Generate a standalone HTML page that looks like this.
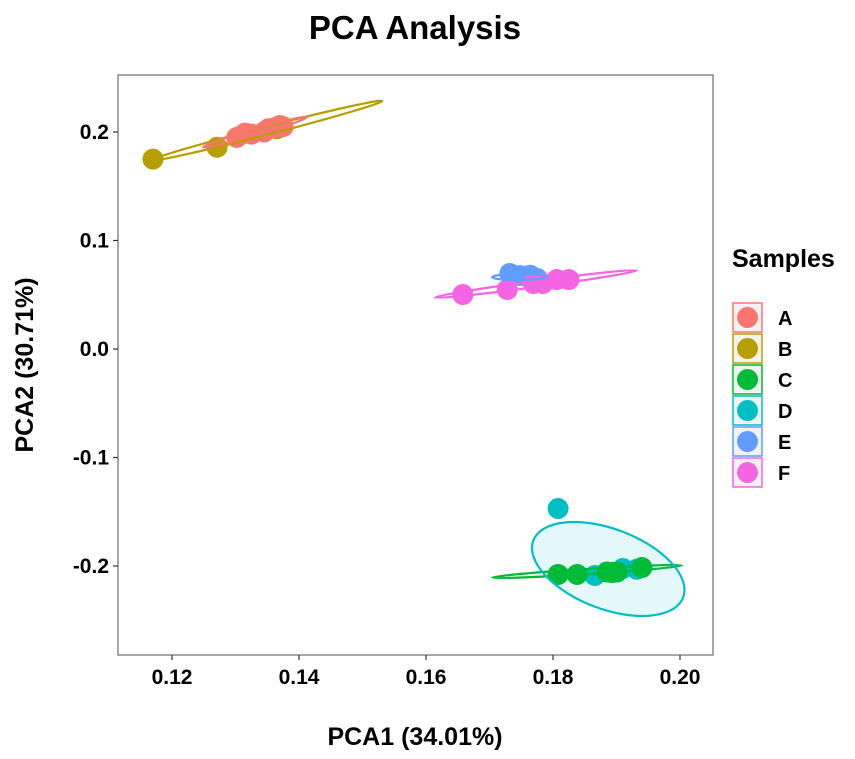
<!DOCTYPE html>
<html><head><meta charset="utf-8"><style>
body{margin:0;background:#fff;}
svg text{font-family:"Liberation Sans",Arial,sans-serif;font-weight:bold;}
</style></head><body>
<svg id="chart" width="855" height="754" xmlns="http://www.w3.org/2000/svg">
<rect width="855" height="754" fill="#fff"/>
<text x="415" y="39" font-size="33" text-anchor="middle">PCA Analysis</text>
<rect x="118" y="75" width="595" height="580" fill="#fff" stroke="#7a7a7a" stroke-width="1.3"/>
<g id="xaxis"></g>
<g id="yaxis"></g>
<g id="marks"></g>
<text x="415" y="745" font-size="25" text-anchor="middle">PCA1 (34.01%)</text>
<text transform="translate(33,365) rotate(-90)" font-size="25" text-anchor="middle">PCA2 (30.71%)</text>
<text x="732" y="267" font-size="25">Samples</text>
<g id="legend"></g>
</svg>
<script>
const groups=["A","B","C","D","E","F"];
const colors=["#F8766D","#B79F00","#00BA38","#00BFC4","#619CFF","#F564E3"];
const xTicks=[0.12,0.14,0.16,0.18,0.20];
const xTickLabels=["0.12","0.14","0.16","0.18","0.20"];
const yTicks=[0.2,0.1,0.0,-0.1,-0.2];
const yTickLabels=["0.2","0.1","0.0","-0.1","-0.2"];
const ptGroup=["B","B","B","A","A","A","A","A","A","A","A","E","E","E","E","F","F","F","F","F","F","D","D","D","D","C","C","C","C","C","C"];
const ptX=[0.117,0.1271,0.1365,0.1302,0.1315,0.1325,0.1345,0.1352,0.1362,0.137,0.1375,0.1732,0.1748,0.1764,0.1775,0.1658,0.1728,0.1769,0.1784,0.1806,0.1825,0.1808,0.1866,0.191,0.1932,0.1808,0.1838,0.1885,0.1893,0.1901,0.194];
const ptY=[0.175,0.186,0.203,0.195,0.199,0.198,0.2,0.203,0.204,0.206,0.205,0.0696,0.0677,0.068,0.065,0.0502,0.0548,0.0604,0.0604,0.064,0.064,-0.147,-0.2087,-0.2023,-0.203,-0.2078,-0.2078,-0.2055,-0.206,-0.2055,-0.2014];
const ellGroup=["B","A","F","E","C","D"];
const ellX1=[0.117,0.1249,0.1614,0.1704,0.1704,0.1769];
const ellY1=[0.1742,0.186,0.0475,0.0662,-0.2106,-0.1765];
const ellX2=[0.1531,0.1413,0.1932,0.1791,0.2003,0.2005];
const ellY2=[0.2286,0.2138,0.0724,0.0666,-0.1995,-0.229];
const ellHalf=[4,3,3,3,2.5,40];

const sx=v=>172+(v-0.12)*6350;
const sy=v=>132-(v-0.2)*1085;
const NS="http://www.w3.org/2000/svg";
function mk(tag,attrs,parent){const e=document.createElementNS(NS,tag);for(const k in attrs)e.setAttribute(k,attrs[k]);parent.appendChild(e);return e;}
const xa=document.getElementById('xaxis'),ya=document.getElementById('yaxis'),mg=document.getElementById('marks'),lg=document.getElementById('legend');
xTicks.forEach((t,i)=>{
  const l=mk('line',{x1:sx(t),x2:sx(t),y1:655,y2:660,stroke:'#333','stroke-width':1.2},xa);
  
  
  const tx=mk('text',{x:sx(t),y:684,'font-size':21,'text-anchor':'middle'},xa);tx.textContent=xTickLabels[i];
  
  
});
yTicks.forEach((t,i)=>{
  const l=mk('line',{x1:113,x2:118,y1:sy(t),y2:sy(t),stroke:'#333','stroke-width':1.2},ya);
  
  
  const tx=mk('text',{x:109,y:sy(t)+7,'font-size':21,'text-anchor':'end'},ya);tx.textContent=yTickLabels[i];
  
  
});
function ellGeom(i){
  const x1=sx(ellX1[i]),y1=sy(ellY1[i]),x2=sx(ellX2[i]),y2=sy(ellY2[i]);
  const cx=(x1+x2)/2,cy=(y1+y2)/2,rx=Math.hypot(x2-x1,y2-y1)/2,a=Math.atan2(y2-y1,x2-x1)*180/Math.PI;
  return {cx,cy,rx,a};
}
ellGroup.forEach((g,i)=>{if(g!=="D")return;const e=ellGeom(i);
  const el=mk('ellipse',{cx:e.cx,cy:e.cy,rx:e.rx,ry:ellHalf[i],transform:`rotate(${e.a} ${e.cx} ${e.cy})`,fill:colors[groups.indexOf(g)],'fill-opacity':0.1,stroke:'none'},mg);
  
  
});
ptX.forEach((x,i)=>{
  const c=mk('circle',{cx:sx(x),cy:sy(ptY[i]),r:10.5,fill:colors[groups.indexOf(ptGroup[i])]},mg);
  
  
});
ellGroup.forEach((g,i)=>{const e=ellGeom(i);
  const el=mk('ellipse',{cx:e.cx,cy:e.cy,rx:e.rx,ry:ellHalf[i],transform:`rotate(${e.a} ${e.cx} ${e.cy})`,fill:'none',stroke:colors[groups.indexOf(g)],'stroke-width':2.2},mg);
  
  
});
groups.forEach((g,i)=>{
  const y=303+i*31;
  const r=mk('rect',{x:733,y:y,width:29,height:29,fill:'#f2f2f2',stroke:colors[i],'stroke-width':1.5},lg);
  
  
  const c=mk('circle',{cx:747.5,cy:y+14.5,r:10.5,fill:colors[i]},lg);
  
  
  const t=mk('text',{x:778,y:y+22,'font-size':20},lg);t.textContent=g;
  
  
});
</script>
</body></html>
